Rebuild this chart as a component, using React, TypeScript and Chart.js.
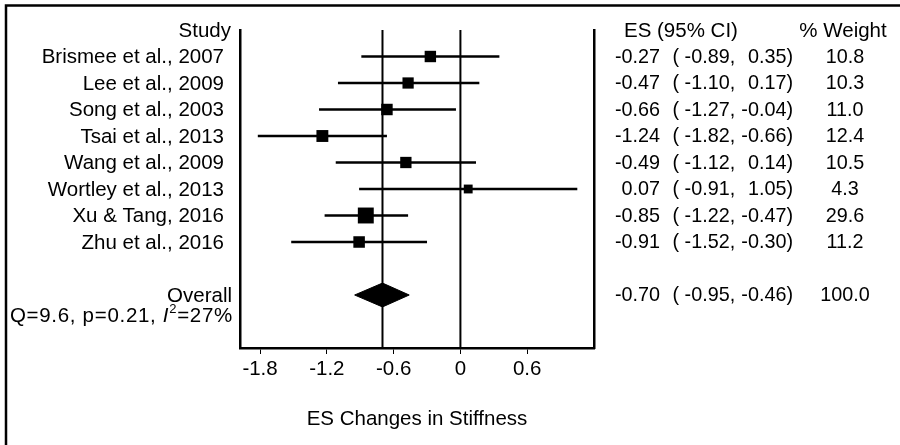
import React, { useEffect, useRef } from "react";
import { Chart, registerables } from "chart.js";

Chart.register(...registerables);

const studies = [
  "Brismee et al., 2007",
  "Lee et al., 2009",
  "Song et al., 2003",
  "Tsai et al., 2013",
  "Wang et al., 2009",
  "Wortley et al., 2013",
  "Xu & Tang, 2016",
  "Zhu et al., 2016",
];
const esValues = [-0.27, -0.47, -0.66, -1.24, -0.49, 0.07, -0.85, -0.91];
const ciLower = [-0.89, -1.1, -1.27, -1.82, -1.12, -0.91, -1.22, -1.52];
const ciUpper = [0.35, 0.17, -0.04, -0.66, 0.14, 1.05, -0.47, -0.3];
const weights = [10.8, 10.3, 11.0, 12.4, 10.5, 4.3, 29.6, 11.2];

const overallLabel = "Overall";
const overallEs = -0.7;
const overallLower = -0.95;
const overallUpper = -0.46;
const overallWeight = 100.0;

const hetPrefix = "Q=9.6, p=0.21, ";
const hetItalic = "I";
const hetSup = "2";
const hetSuffix = "=27%";

const xTickValues = [-1.8, -1.2, -0.6, 0, 0.6];
const xTickLabels = ["-1.8", "-1.2", "-0.6", "0", "0.6"];
const xTitle = "ES Changes in Stiffness";
const headerStudy = "Study";
const headerEs = "ES (95% CI)";
const headerWeight = "% Weight";

const FONT_FAMILY = '"Liberation Sans", Arial, Helvetica, sans-serif';
const FS = 20.5;
const FS_COL = 19.8;

// row positions (category layout)
const studyRows = studies.map((_, i) => i + 1);
const overallRow = 10;
const hetRow = 10.75;
const headerRow = 0;

const fmt2 = (v: number) => v.toFixed(2);
const fmt1 = (v: number) => v.toFixed(1);

const textPlugin = {
  id: "forestText",
  beforeDraw(chart: any) {
    const ctx = chart.ctx;
    ctx.save();
    ctx.fillStyle = "#fff";
    ctx.fillRect(0, 0, chart.width, chart.height);
    ctx.strokeStyle = "#000";
    ctx.lineWidth = 2.5;
    ctx.beginPath();
    ctx.moveTo(6, chart.height);
    ctx.lineTo(6, 5.5);
    ctx.lineTo(chart.width, 5.5);
    ctx.stroke();
    ctx.restore();
  },
  afterDraw(chart: any) {
    const ctx = chart.ctx;
    const y = chart.scales.y;
    const py = (r: number) => y.getPixelForValue(r) + 1;
    ctx.save();
    ctx.fillStyle = "#000";
    ctx.textBaseline = "middle";
    ctx.font = `${FS}px ${FONT_FAMILY}`;

    // left labels
    ctx.textAlign = "right";
    ctx.fillText(headerStudy, 231, py(headerRow));
    studies.forEach((s, i) => ctx.fillText(s, 224, py(studyRows[i])));
    ctx.fillText(overallLabel, 232, py(overallRow));

    // heterogeneity line
    ctx.textAlign = "left";
    const normalFont = `${FS}px ${FONT_FAMILY}`;
    const italicFont = `italic ${FS}px ${FONT_FAMILY}`;
    const supFont = `${Math.round(FS * 0.65)}px ${FONT_FAMILY}`;
    ctx.letterSpacing = "0.7px";
    ctx.font = normalFont;
    const w1 = ctx.measureText(hetPrefix).width;
    const w4 = ctx.measureText(hetSuffix).width;
    ctx.font = italicFont;
    const w2 = ctx.measureText(hetItalic).width;
    ctx.font = supFont;
    const w3 = ctx.measureText(hetSup).width;
    const total = w1 + w2 + w3 + w4;
    let hx = 233 - total;
    const hy = py(hetRow);
    ctx.font = normalFont;
    ctx.fillText(hetPrefix, hx, hy);
    hx += w1;
    ctx.font = italicFont;
    ctx.fillText(hetItalic, hx, hy);
    hx += w2;
    ctx.font = supFont;
    ctx.fillText(hetSup, hx, hy - 6);
    hx += w3;
    ctx.font = normalFont;
    ctx.fillText(hetSuffix, hx, hy);
    ctx.letterSpacing = "0px";

    // right columns
    const colFont = `${FS_COL}px ${FONT_FAMILY}`;
    ctx.font = normalFont;
    ctx.textAlign = "left";
    ctx.fillText(headerEs, 624, py(headerRow));
    ctx.textAlign = "center";
    ctx.fillText(headerWeight, 843, py(headerRow));

    ctx.font = colFont;
    const drawRow = (r: number, es: number, lo: number, hi: number, w: number) => {
      const yy = py(r);
      ctx.textAlign = "right";
      ctx.fillText(fmt2(es), 660, yy);
      ctx.textAlign = "left";
      ctx.fillText("( " + fmt2(lo) + ",", 672.5, yy);
      ctx.textAlign = "right";
      ctx.fillText(fmt2(hi) + ")", 793, yy);
      ctx.textAlign = "center";
      ctx.fillText(fmt1(w), 845, yy);
    };
    studies.forEach((_, i) => drawRow(studyRows[i], esValues[i], ciLower[i], ciUpper[i], weights[i]));
    drawRow(overallRow, overallEs, overallLower, overallUpper, overallWeight);
    ctx.restore();
  },
};

export default function App() {
  const ref = useRef<HTMLCanvasElement | null>(null);
  useEffect(() => {
    if (!ref.current) return;
    const black = "#000";
    const lineDs = (pts: { x: number; y: number }[], width: number) => ({
      type: "scatter" as const,
      data: pts,
      showLine: true,
      borderColor: black,
      borderWidth: width,
      pointRadius: 0,
      fill: false,
    });
    const squareSide = (w: number) => 4.5 + 2.1 * Math.sqrt(w);
    const datasets: any[] = [
      {
        type: "scatter",
        data: studies.map((_, i) => ({ x: esValues[i], y: studyRows[i] })),
        pointStyle: "rect",
        pointRadius: weights.map((w) => squareSide(w) / Math.SQRT2),
        backgroundColor: black,
        borderWidth: 0,
        showLine: false,
      },
      {
        type: "scatter",
        data: [
          { x: overallLower, y: overallRow },
          { x: overallEs, y: overallRow - 0.45 },
          { x: overallUpper, y: overallRow },
          { x: overallEs, y: overallRow + 0.45 },
          { x: overallLower, y: overallRow },
        ],
        showLine: true,
        borderColor: black,
        borderWidth: 1,
        backgroundColor: black,
        pointRadius: 0,
        fill: "shape",
        tension: 0,
      },
      ...studies.map((_, i) =>
        lineDs(
          [
            { x: ciLower[i], y: studyRows[i] },
            { x: ciUpper[i], y: studyRows[i] },
          ],
          2.5
        )
      ),
      lineDs(
        [
          { x: 0, y: 0 },
          { x: 0, y: 12 },
        ],
        2
      ),
      lineDs(
        [
          { x: overallEs, y: 0 },
          { x: overallEs, y: 12 },
        ],
        2
      ),
    ];

    const chart = new Chart(ref.current, {
      type: "scatter",
      data: { datasets },
      options: {
        animation: false,
        responsive: false,
        maintainAspectRatio: false,
        devicePixelRatio: 1,
        layout: { padding: { top: 30, left: 0, right: 0, bottom: 0 } },
        plugins: {
          legend: { display: false },
          tooltip: { enabled: false },
          title: { display: false },
        },
        scales: {
          x: {
            type: "linear",
            position: "bottom",
            min: -1.98,
            max: 1.2,
            afterFit: (s: any) => {
              s.height = 97;
            },
            afterBuildTicks: (s: any) => {
              s.ticks = xTickValues.map((v) => ({ value: v }));
            },
            ticks: {
              autoSkip: false,
              maxRotation: 0,
              color: black,
              padding: 3,
              font: { size: FS, family: FONT_FAMILY },
              callback: (_v: any, i: number) => xTickLabels[i],
            },
            grid: {
              drawOnChartArea: false,
              drawTicks: true,
              tickLength: 6,
              color: black,
              lineWidth: 1,
            },
            border: { display: true, color: black, width: 2.5 },
            title: {
              display: true,
              text: xTitle,
              color: black,
              font: { size: FS, family: FONT_FAMILY },
              padding: { top: 0, bottom: 13 },
            },
          },
          y: {
            type: "linear",
            position: "left",
            reverse: true,
            min: 0,
            max: 12,
            afterFit: (s: any) => {
              s.width = 240;
            },
            ticks: { display: false },
            grid: { display: false },
            border: { display: true, color: black, width: 2.5 },
          },
          y2: {
            type: "linear",
            axis: "y",
            position: "right",
            reverse: true,
            min: 0,
            max: 12,
            afterFit: (s: any) => {
              s.width = 306;
            },
            ticks: { display: false },
            grid: { display: false },
            border: { display: true, color: black, width: 2.5 },
          },
        },
      } as any,
      plugins: [textPlugin],
    });
    return () => chart.destroy();
  }, []);

  return (
    <div style={{ position: "fixed", left: 0, top: 0, width: 900, height: 445, background: "#fff" }}>
      <canvas ref={ref} width={900} height={445} style={{ display: "block" }} />
    </div>
  );
}
